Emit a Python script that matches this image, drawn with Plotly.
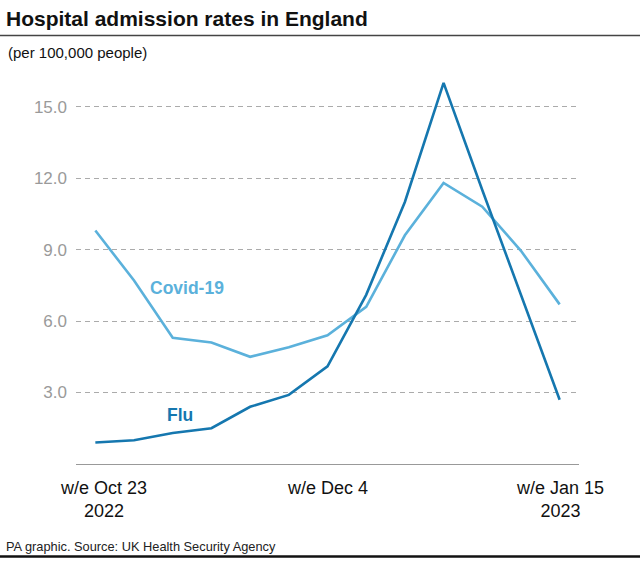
import plotly.graph_objects as go

weeks = ["Oct 23", "Oct 30", "Nov 6", "Nov 13", "Nov 20", "Nov 27", "Dec 4",
         "Dec 11", "Dec 18", "Dec 25", "Jan 1", "Jan 8", "Jan 15"]
covid = [9.8, 7.7, 5.3, 5.1, 4.5, 4.9, 5.4, 6.6, 9.6, 11.8, 10.8, 8.95, 6.7]
flu = [0.9, 1.0, 1.3, 1.5, 2.4, 2.9, 4.1, 7.1, 11.0, 16.0, 11.5, 7.1, 2.7]

y_ticks = [3, 6, 9, 12, 15]
x_label_idx = [0, 6, 12]
x_labels = ["w/e Oct 23<br>2022", "w/e Dec 4", "w/e Jan 15<br>2023"]
x_label_shift = [8, 0, 0]

FLU_C = "#1577AF"
COVID_C = "#5BB1DB"
FONT = "Liberation Sans"

x = list(range(len(weeks)))

W, H = 640, 562
L, R, T, B = 76, 61, 58.5, 97.7
pw, ph = W - L - R, H - T - B


def px_to_paper(px, py):
    return (px - L) / pw, (H - B - py) / ph


fig = go.Figure()
fig.add_trace(go.Scatter(x=x, y=covid, mode="lines", name="Covid-19",
                         line=dict(color=COVID_C, width=2.6), hoverinfo="skip"))
fig.add_trace(go.Scatter(x=x, y=flu, mode="lines", name="Flu",
                         line=dict(color=FLU_C, width=2.6), hoverinfo="skip"))

fig.update_layout(
    width=W, height=H,
    margin=dict(l=L, r=R, t=T, b=B),
    paper_bgcolor="white", plot_bgcolor="white",
    showlegend=False,
    font=dict(family=FONT),
    xaxis=dict(range=[-0.5, 12.5], showgrid=False, zeroline=False,
               showticklabels=False, ticks="", fixedrange=True),
    yaxis=dict(range=[0, 17], tickvals=y_ticks, tickformat=".1f",
               showgrid=True, gridcolor="#ababab", gridwidth=1.2,
               griddash="5px,4px", zeroline=True, zerolinecolor="#999999",
               zerolinewidth=1.2, ticks="", ticklabelstandoff=8,
               tickfont=dict(size=17, color="#9a9a9a", family=FONT),
               fixedrange=True),
)

for i, lab, sh in zip(x_label_idx, x_labels, x_label_shift):
    fig.add_annotation(x=i, y=0, xref="x", yref="y", text=lab, showarrow=False,
                       yanchor="top", yshift=-12, xshift=sh, align="center",
                       font=dict(size=18, color="#111111", family=FONT))

# Series labels
fig.add_annotation(x=2.38, y=7.39, xref="x", yref="y", text="<b>Covid-19</b>",
                   showarrow=False, font=dict(size=17.5, color=COVID_C, family=FONT))
fig.add_annotation(x=2.2, y=2.07, xref="x", yref="y", text="<b>Flu</b>",
                   showarrow=False, font=dict(size=17.5, color=FLU_C, family=FONT))

# Title, subtitle, footer (pixel positions converted to paper coords)
texts = [("<b>Hospital admission rates in England</b>", 4, 18, 21, "#111111"),
         ("(per 100,000 people)", 6, 52, 15, "#111111"),
         ("PA graphic. Source: UK Health Security Agency", 4, 547, 12.8, "#222222")]
for t, px, py, sz, col in texts:
    xx, yy = px_to_paper(px, py)
    fig.add_annotation(x=xx, y=yy, xref="paper", yref="paper", text=t,
                       showarrow=False, xanchor="left", yanchor="middle",
                       font=dict(size=sz, color=col, family=FONT))

# rules
x0, _ = px_to_paper(0, 0)
x1, _ = px_to_paper(640, 0)
_, yt = px_to_paper(0, 35)
_, yb = px_to_paper(0, 557)
fig.add_shape(type="line", xref="paper", yref="paper", x0=x0, x1=x1, y0=yt, y1=yt,
              line=dict(color="#444444", width=1.5))
fig.add_shape(type="line", xref="paper", yref="paper", x0=x0, x1=x1, y0=yb, y1=yb,
              line=dict(color="#111111", width=2.5))

fig.write_html("out.html", config={"displayModeBar": False},
               post_script="document.body.style.margin='0';document.body.style.overflow='hidden';")
